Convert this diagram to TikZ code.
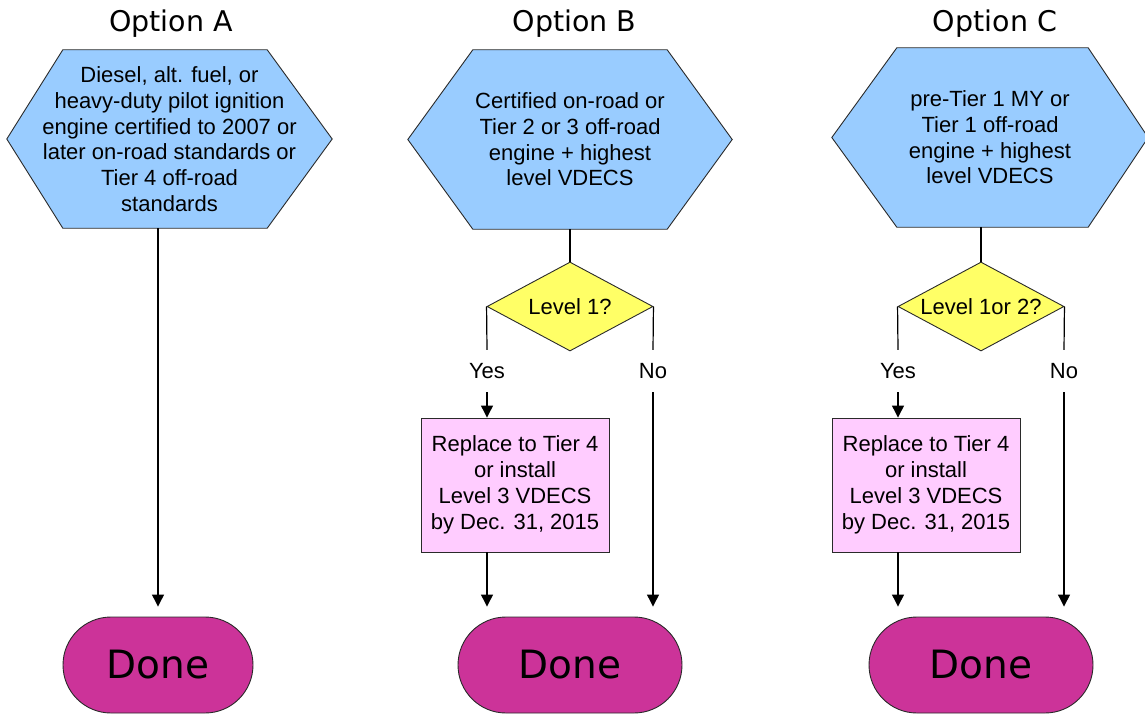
\documentclass[tikz,border=0pt]{standalone}
\usepackage{fontspec}
\setmainfont{Liberation Sans}
\newfontfamily\titlefont{DejaVu Sans}
\usetikzlibrary{shapes.geometric,arrows.meta,backgrounds,calc}

\definecolor{hexblue}{HTML}{99CCFF}
\definecolor{diayellow}{HTML}{FFFF66}
\definecolor{boxpink}{HTML}{FFCCFF}
\definecolor{donemag}{HTML}{CC3399}
\definecolor{edgegray}{HTML}{2A2A2A}

\newcommand{\hexagonbg}[3]{%
  \draw[hexshape] (#1.west) -- ([xshift=#2]#1.north west) -- ([xshift=-#3]#1.north east)
    -- (#1.east) -- ([xshift=-#3]#1.south east) -- ([xshift=#2]#1.south west) -- cycle;}

\begin{document}
\begin{tikzpicture}[x=1pt,y=-1pt,
  title/.style={font=\titlefont\fontsize{28.5}{34}\selectfont, anchor=base, inner sep=0pt},
  hexnode/.style={align=center, font=\fontsize{22}{25.7}\selectfont, inner sep=0pt},
  hexshape/.style={fill=hexblue, draw=edgegray, line width=0.9pt, line join=miter},
  decision/.style={diamond, aspect=1.865, draw=edgegray, fill=diayellow, line width=0.9pt,
    minimum width=166pt, minimum height=89pt, inner sep=0pt, font=\fontsize{22}{25}\selectfont},
  actionbox/.style={rectangle, draw=edgegray, fill=boxpink, line width=0.9pt,
    minimum width=188pt, minimum height=134pt, inner sep=0pt, align=center,
    font=\fontsize{22}{26}\selectfont},
  donebox/.style={rectangle, rounded corners=48pt, draw=edgegray, fill=donemag, line width=0.9pt,
    minimum height=96pt, inner sep=0pt, font=\titlefont\fontsize{39}{44}\selectfont},
  lbl/.style={inner sep=0pt, minimum height=42pt, font=\fontsize{22}{25}\selectfont},
  conn/.style={draw=black, line width=1.2pt},
  arr/.style={conn, -{Triangle[length=12pt,width=12pt]}}
]
\useasboundingbox (0,0) rectangle (1145,717);

% Titles
\node[title] (tA) at (171,32) {Option A};
\node[title] (tB) at (574.5,32) {Option B};
\node[title] (tC) at (995,32) {Option C};

% Hexagons
\node[hexnode, minimum width=325pt, minimum height=178pt] (hA) at (169.5,139)
  {Diesel, alt. fuel, or\\heavy-duty pilot ignition\\engine certified to 2007 or\\later on-road standards or\\Tier 4 off-road\\standards};
\node[hexnode, minimum width=324pt, minimum height=179pt] (hB) at (570,139.5)
  {Certified on-road or\\Tier 2 or 3 off-road\\engine + highest\\level VDECS};
\node[hexnode, minimum width=316pt, minimum height=179pt] (hC) at (990,137.5)
  {pre-Tier 1 MY or\\Tier 1 off-road\\engine + highest\\level VDECS};
\begin{scope}[on background layer]
  \hexagonbg{hA}{56pt}{65pt}
  \hexagonbg{hB}{65pt}{65pt}
  \hexagonbg{hC}{65pt}{60pt}
\end{scope}

% Decisions
\node[decision] (dB) at (570,306.5) {Level 1?};
\node[decision] (dC) at (981,306.5) {Level 1or 2?};

% Yes / No labels
\node[lbl] (yB) at (487,371) {Yes};
\node[lbl] (nB) at (653,371) {No};
\node[lbl] (yC) at (898,371) {Yes};
\node[lbl] (nC) at (1064,371) {No};

% Action boxes
\node[actionbox] (bB) at (515,485) {Replace to Tier 4\\or install\\Level 3 VDECS\\by Dec. 31, 2015};
\node[actionbox] (bC) at (926,485) {Replace to Tier 4\\or install\\Level 3 VDECS\\by Dec. 31, 2015};

% Done
\node[donebox, minimum width=190pt] (dnA) at (158,665) {Done};
\node[donebox, minimum width=224pt] (dnB) at (570,665) {Done};
\node[donebox, minimum width=224pt] (dnC) at (981,665) {Done};

% Connectors A
\draw[arr, shorten >=10pt] (dnA.north |- hA.south) -- (dnA.north);

% Connectors B
\draw[conn] (hB.south) -- (dB.north);
\draw[conn] (dB.west) -- (yB.north);
\draw[arr] (yB.south) -- (yB |- bB.north);
\draw[arr, shorten >=10pt] (yB |- bB.south) -- (yB |- dnB.north);
\draw[conn] (dB.east) -- (nB.north);
\draw[arr, shorten >=10pt] (nB.south) -- (nB |- dnB.north);

% Connectors C
\draw[conn] (dC.north |- hC.south) -- (dC.north);
\draw[conn] (dC.west) -- (yC.north);
\draw[arr] (yC.south) -- (yC |- bC.north);
\draw[arr, shorten >=10pt] (yC |- bC.south) -- (yC |- dnC.north);
\draw[conn] (dC.east) -- (nC.north);
\draw[arr, shorten >=10pt] (nC.south) -- (nC |- dnC.north);
\end{tikzpicture}
\end{document}
